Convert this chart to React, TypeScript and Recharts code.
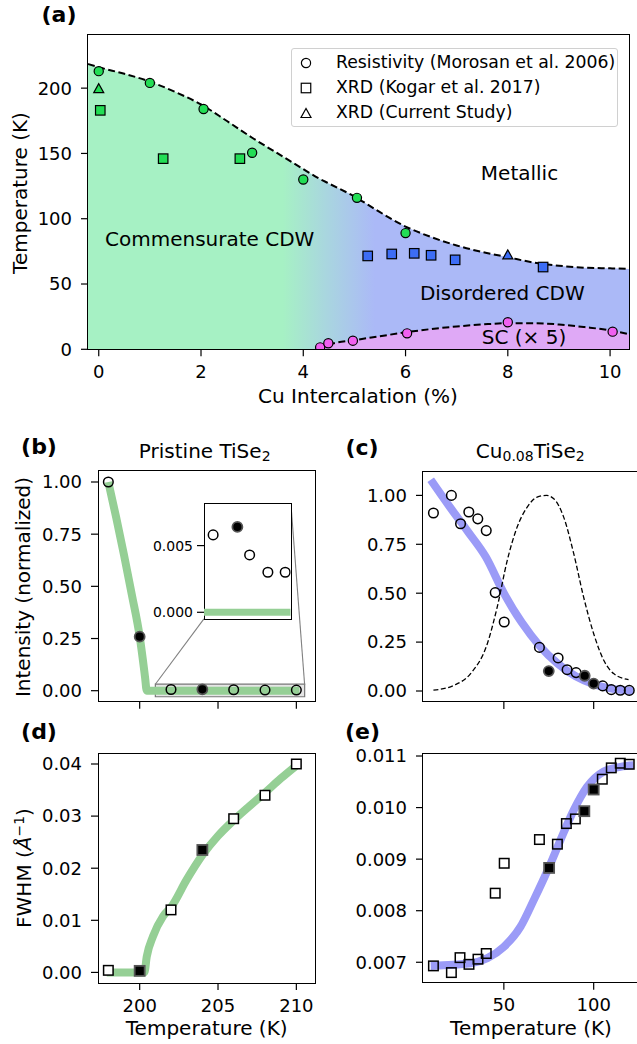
import React from 'react';
import {
  ComposedChart,
  Area,
  Line,
  Scatter,
  XAxis,
  YAxis,
  ReferenceArea,
  ReferenceLine,
} from 'recharts';

const FONT = '"DejaVu Sans", Verdana, sans-serif';

// (a) phase boundaries, sampled along Cu %
const curveX = [-0.21, 0, 0.5, 1, 1.5, 2, 2.5, 3, 3.5, 4, 4.3, 4.5, 5, 5.5, 6, 6.5, 7, 7.5, 8, 8.5, 9, 9.5, 10, 10.37];
const cdwEdge = [218.5, 216, 211, 205, 197, 187.5, 175, 162, 150, 138, 131, 127, 117, 105, 94, 86, 79.5, 74.5, 70.5, 66.5, 64, 62.5, 62, 61.5];
const scEdge = [null, null, null, null, null, null, null, null, null, null, 0, 3.5, 7, 10, 13, 15.5, 17.5, 19, 20, 20, 19, 17, 14.5, 11.5];

// (a) markers
const resCdwX = [0, 1, 2.05, 3, 4, 5.05, 6];
const resCdwT = [213, 204, 184, 150.5, 130, 116, 89];
const kogarCdwX = [0.03, 1.26, 2.76];
const kogarCdwT = [183, 146, 146];
const curCdwX = [0];
const curCdwT = [200];
const kogarDisX = [5.26, 5.73, 6.17, 6.5, 6.97, 8.69];
const kogarDisT = [71.5, 73, 73.5, 72, 68.5, 63];
const curDisX = [8];
const curDisT = [72.7];
const scX = [4.33, 4.49, 4.97, 6.03, 8, 10.05];
const scT = [1.5, 4.6, 6.6, 12.2, 20.7, 13.5];
const cuTicks = [0, 2, 4, 6, 8, 10];
const tcTicks = [0, 50, 100, 150, 200];

// (b) pristine TiSe2 intensity
const bOpenT = [198, 202, 206, 208, 210];
const bOpenI = [1.0, 0.0058, 0.0043, 0.003, 0.003];
const bClosedT = [200, 204];
const bClosedI = [0.259, 0.0064];
const bFitT = [198, 198.5, 199, 199.5, 200, 200.2, 200.35, 200.45, 210.2];
const bFitI = [1.0, 0.83, 0.65, 0.46, 0.26, 0.15, 0.06, 0, 0];
const insOpenT = [202, 206, 208, 209.9];
const insOpenI = [0.0058, 0.0043, 0.003, 0.003];
const insClosedT = [204.66];
const insClosedI = [0.0064];
const insFitT = [201, 210.5];
const insFitI = [0, 0];
const intTicks = [0, 0.25, 0.5, 0.75, 1];
const insTicks = [0, 0.005];
const pristineTicks = [200, 205, 210];

// (c) Cu0.08TiSe2 intensity
const cOpenT = [10.8, 20.8, 25.9, 30.5, 35.5, 40.2, 45.2, 50.2, 69.8, 80.2, 85.2, 90.2, 105, 109.8, 114.8, 119.8];
const cOpenI = [0.91, 1.0, 0.855, 0.915, 0.88, 0.82, 0.503, 0.353, 0.223, 0.169, 0.109, 0.094, 0.026, 0.007, 0.004, 0.003];
const cClosedT = [75, 95, 100];
const cClosedI = [0.102, 0.078, 0.038];
const cFitT = [9.3, 20, 30, 40, 50, 60, 70, 80, 90, 100, 110, 122];
const cFitI = [1.08, 0.94, 0.815, 0.685, 0.5, 0.35, 0.23, 0.14, 0.075, 0.035, 0.012, 0.0];
const cPeakT = [10.8, 22.2, 31.5, 40.8, 46.3, 51.9, 57.4, 63, 68.5, 73.7, 77.8, 83.3, 88.9, 94.4, 100, 105.6, 111.1, 119.4];
const cPeakI = [0.004, 0.029, 0.089, 0.242, 0.429, 0.668, 0.838, 0.94, 0.991, 1.0, 0.983, 0.889, 0.702, 0.48, 0.293, 0.157, 0.089, 0.058];
const dopedTicks = [50, 100];

// (d) pristine FWHM
const dOpenT = [198, 202, 206, 208, 210];
const dOpenW = [0.0004, 0.012, 0.0295, 0.034, 0.04];
const dClosedT = [200, 204];
const dClosedW = [0.0003, 0.0235];
const dFitT = [197.9, 200.3, 200.45, 200.85, 201.5, 202, 203, 204, 205, 206, 207, 208, 209, 210];
const dFitW = [0, 0, 0.003, 0.0069, 0.0108, 0.0125, 0.0178, 0.0225, 0.0262, 0.0292, 0.0319, 0.0345, 0.0372, 0.0397];
const fwhmTicks = [0, 0.01, 0.02, 0.03, 0.04];

// (e) Cu0.08TiSe2 FWHM
const eOpenT = [10.8, 20.8, 25.6, 30.6, 35.6, 40.2, 45.2, 50.2, 69.8, 79.8, 84.8, 89.8, 104.8, 109.8, 114.8, 119.8];
const eOpenW = [0.00693, 0.0068, 0.00709, 0.00696, 0.00706, 0.00717, 0.00834, 0.00892, 0.00938, 0.00929, 0.00969, 0.00978, 0.01055, 0.01077, 0.01086, 0.01084];
const eClosedT = [75.2, 94.8, 100];
const eClosedW = [0.00883, 0.00993, 0.01035];
const eFitT = [9.3, 31.5, 40.8, 50, 59.3, 66.7, 75.2, 81.5, 88.9, 96.3, 105.6, 114.8, 122.2];
const eFitW = [0.00693, 0.00698, 0.00708, 0.0073, 0.00769, 0.00821, 0.00885, 0.00937, 0.00995, 0.0104, 0.0107, 0.01079, 0.01082];
const eTicks = [0.007, 0.008, 0.009, 0.01, 0.011];

const GREEN = '#22dd55';
const BLUE = '#3d6df5';
const MAGENTA = '#f060f0';
const GREEN_FIT = '#95cf95';
const BLUE_FIT = '#9b9bf7';

type Pt = { x: number; y: number };
const zip = (xs: number[], ys: number[]): Pt[] => xs.map((x, i) => ({ x, y: ys[i] }));

type Rect = { x0: number; y0: number; x1: number; y1: number };
const RA: Rect = { x0: 88, y0: 35, x1: 629, y1: 349.3 };
const RB: Rect = { x0: 98.3, y0: 471, x1: 315, y1: 701.7 };
const RC: Rect = { x0: 422.7, y0: 471.7, x1: 639.2, y1: 701.7 };
const RD: Rect = { x0: 98.3, y0: 753.3, x1: 315, y1: 983.3 };
const RE: Rect = { x0: 422.7, y0: 754, x1: 639.2, y1: 982.7 };
const RI: Rect = { x0: 204.3, y0: 503.7, x1: 291, y1: 619 };

const PAD_T = 14;
const PAD_R = 4;

const circle = (r: number, fill: string, stroke = '#000', sw = 1.2) => (p: any) =>
  <circle cx={p.cx} cy={p.cy} r={r} fill={fill} stroke={stroke} strokeWidth={sw} />;
const square = (s: number, fill: string, stroke = '#000', sw = 1.2) => (p: any) =>
  <rect x={p.cx - s / 2} y={p.cy - s / 2} width={s} height={s} fill={fill} stroke={stroke} strokeWidth={sw} />;
const triangle = (w: number, h: number, fill: string) => (p: any) =>
  <polygon
    points={`${p.cx},${p.cy - h / 2} ${p.cx - w / 2},${p.cy + h / 2} ${p.cx + w / 2},${p.cy + h / 2}`}
    fill={fill}
    stroke="#000"
    strokeWidth={1.2}
  />;

type PlotProps = {
  rect: Rect;
  xd: [number, number];
  yd: [number, number];
  xTicks?: number[];
  yTicks: number[];
  xFmt?: (v: number) => string;
  yFmt?: (v: number) => string;
  data?: any[];
  padL?: number;
  padB?: number;
  tickFont?: number;
  hideX?: boolean;
  children?: React.ReactNode;
};

function Plot({ rect, xd, yd, xTicks, yTicks, xFmt, yFmt, data, padL = 72, padB = 40, tickFont = 18, hideX, children }: PlotProps) {
  const w = rect.x1 - rect.x0 + padL + PAD_R;
  const h = rect.y1 - rect.y0 + PAD_T + padB;
  const tick = { fill: '#000', fontSize: tickFont, fontFamily: FONT };
  const tickLine = { stroke: '#000', strokeWidth: 1.2 };
  return (
    <div style={{ position: 'absolute', left: rect.x0 - padL, top: rect.y0 - PAD_T }}>
      <ComposedChart width={w} height={h} data={data} margin={{ top: PAD_T, right: PAD_R, bottom: 0, left: 0 }}>
        <XAxis
          dataKey="x"
          type="number"
          domain={xd}
          allowDataOverflow
          ticks={xTicks}
          interval={0}
          tickFormatter={xFmt}
          height={padB}
          hide={hideX}
          axisLine={false}
          tickLine={tickLine}
          tickSize={7}
          tickMargin={9}
          tick={tick}
        />
        <YAxis
          dataKey="y"
          type="number"
          domain={yd}
          allowDataOverflow
          ticks={yTicks}
          interval={0}
          tickFormatter={yFmt}
          width={padL}
          axisLine={false}
          tickLine={tickLine}
          tickSize={7}
          tickMargin={tickFont < 16 ? 4 : 9}
          tick={tick}
        />
        {children}
      </ComposedChart>
    </div>
  );
}

const Frame = ({ rect, bg }: { rect: Rect; bg?: string }) => (
  <div
    style={{
      position: 'absolute',
      left: rect.x0 - 0.7,
      top: rect.y0 - 0.7,
      width: rect.x1 - rect.x0 + 1.4,
      height: rect.y1 - rect.y0 + 1.4,
      border: '1.4px solid #000',
      boxSizing: 'border-box',
      background: bg ?? 'transparent',
    }}
  />
);

const Txt = ({ x, y, size = 20, bold, rotate, children }: { x: number; y: number; size?: number; bold?: boolean; rotate?: boolean; children: React.ReactNode }) => (
  <div
    style={{
      position: 'absolute',
      left: x,
      top: y,
      transform: `translate(-50%, -50%)${rotate ? ' rotate(-90deg)' : ''}`,
      fontSize: size,
      fontWeight: bold ? 'bold' : 'normal',
      whiteSpace: 'nowrap',
      lineHeight: 1,
    }}
  >
    {children}
  </div>
);

const sub = (s: string) => <span style={{ fontSize: '0.7em', verticalAlign: '-0.25em' }}>{s}</span>;
const none = () => '';
const f2 = (v: number) => v.toFixed(2);
const f3 = (v: number) => v.toFixed(3);

const LegendRow = ({ y, icon, label }: { y: number; icon: React.ReactNode; label: string }) => (
  <>
    <svg style={{ position: 'absolute', left: 300, top: y - 6 }} width={12} height={12}>
      {icon}
    </svg>
    <Txt x={336} y={y} size={17.3}>
      <span style={{ position: 'relative', left: '50%' }}>{label}</span>
    </Txt>
  </>
);

export default function App() {
  const phaseRows = curveX.map((x, i) => ({ x, upper: cdwEdge[i], sc: scEdge[i] }));
  const fat = (color: string, w: number) => ({
    stroke: color,
    strokeWidth: w,
    dot: false,
    activeDot: false,
    isAnimationActive: false,
    type: 'monotone' as const,
    dataKey: 'y',
  });
  const blackDot = circle(5, '#000', '#555', 1.8);
  const blackSq = square(10, '#000', '#555', 1.8);

  return (
    <div
      style={{
        position: 'fixed',
        left: 0,
        top: 0,
        width: 637,
        height: 1044,
        overflow: 'hidden',
        background: '#fff',
        fontFamily: FONT,
        color: '#000',
      }}
    >
      {/* (a) phase diagram */}
      <Plot rect={RA} xd={[-0.21, 10.37]} yd={[0, 240.7]} xTicks={cuTicks} yTicks={tcTicks} data={phaseRows}>
        <defs>
          <linearGradient id="cdwFill" x1="0" y1="0" x2="1" y2="0">
            <stop offset="0.36" stopColor="#a6f1c4" />
            <stop offset="0.44" stopColor="#a9d6df" />
            <stop offset="0.53" stopColor="#abb9f7" />
          </linearGradient>
        </defs>
        <Area type="monotone" dataKey="upper" stroke="none" fill="url(#cdwFill)" fillOpacity={1} isAnimationActive={false} />
        <Area type="monotone" dataKey="sc" stroke="none" fill="#dfa9f6" fillOpacity={1} isAnimationActive={false} />
        <Line type="monotone" dataKey="upper" stroke="#000" strokeWidth={2} strokeDasharray="7 3.5" dot={false} activeDot={false} isAnimationActive={false} />
        <Line type="monotone" dataKey="sc" stroke="#000" strokeWidth={2} strokeDasharray="7 3.5" dot={false} activeDot={false} isAnimationActive={false} />
        <Scatter data={zip(kogarCdwX, kogarCdwT)} shape={square(9.5, GREEN)} isAnimationActive={false} />
        <Scatter data={zip(curCdwX, curCdwT)} shape={triangle(10, 9, GREEN)} isAnimationActive={false} />
        <Scatter data={zip(resCdwX, resCdwT)} shape={circle(4.6, GREEN)} isAnimationActive={false} />
        <Scatter data={zip(kogarDisX, kogarDisT)} shape={square(9.5, BLUE)} isAnimationActive={false} />
        <Scatter data={zip(curDisX, curDisT)} shape={triangle(10, 9, BLUE)} isAnimationActive={false} />
        <Scatter data={zip(scX, scT)} shape={circle(4.6, MAGENTA)} isAnimationActive={false} />
      </Plot>
      <Frame rect={RA} />
      <Txt x={209.7} y={239.3} size={20}>Commensurate CDW</Txt>
      <Txt x={519.5} y={173} size={20}>Metallic</Txt>
      <Txt x={502.3} y={293.3} size={20}>Disordered CDW</Txt>
      <Txt x={524} y={337.3} size={20}>SC (× 5)</Txt>
      <div
        style={{
          position: 'absolute',
          left: 290.7,
          top: 48.3,
          width: 327.3,
          height: 78.7,
          background: 'rgba(255,255,255,0.85)',
          border: '1px solid #d0d0d0',
          borderRadius: 3,
          boxSizing: 'border-box',
        }}
      />
      <LegendRow y={63.3} icon={<circle cx={6} cy={6} r={4.6} fill="none" stroke="#000" strokeWidth={1.2} />} label="Resistivity (Morosan et al. 2006)" />
      <LegendRow y={87.7} icon={<rect x={1.25} y={1.25} width={9.5} height={9.5} fill="none" stroke="#000" strokeWidth={1.2} />} label="XRD (Kogar et al. 2017)" />
      <LegendRow y={112.7} icon={<polygon points="6,1.5 1,10.5 11,10.5" fill="none" stroke="#000" strokeWidth={1.2} />} label="XRD (Current Study)" />
      <Txt x={59} y={15} size={22} bold>(a)</Txt>
      <Txt x={20} y={193} rotate>Temperature (K)</Txt>
      <Txt x={358} y={395.5}>Cu Intercalation (%)</Txt>

      {/* (b) pristine intensity */}
      <Plot rect={RB} xd={[197.34, 211.17]} yd={[-0.0527, 1.0527]} xTicks={pristineTicks} xFmt={none} yTicks={intTicks} yFmt={f2}>
        <Line data={zip(bFitT, bFitI)} {...fat(GREEN_FIT, 8)} />
        <ReferenceLine segment={[{ x: 201, y: 0.031 }, { x: 204.1, y: 0.344 }]} stroke="#808080" strokeWidth={1.1} />
        <ReferenceLine segment={[{ x: 210.53, y: 0.027 }, { x: 209.65, y: 0.898 }]} stroke="#808080" strokeWidth={1.1} />
        <ReferenceArea x1={201} x2={210.53} y1={-0.029} y2={0.031} fill="#8a8a8a" fillOpacity={0.22} stroke="#777" strokeWidth={1.2} ifOverflow="visible" />
        <Scatter data={zip(bOpenT, bOpenI)} shape={circle(4.8, 'none', '#000', 1.5)} isAnimationActive={false} />
        <Scatter data={zip(bClosedT, bClosedI)} shape={blackDot} isAnimationActive={false} />
      </Plot>
      <Frame rect={RB} />
      <Frame rect={RI} bg="#fff" />
      <Plot rect={RI} xd={[201, 210.5]} yd={[-0.000525, 0.008118]} yTicks={insTicks} yFmt={f3} padL={62} padB={0} tickFont={14} hideX>
        <Line data={zip(insFitT, insFitI)} {...fat(GREEN_FIT, 7)} type="linear" />
        <Scatter data={zip(insOpenT, insOpenI)} shape={circle(4.8, '#fff', '#000', 1.5)} isAnimationActive={false} />
        <Scatter data={zip(insClosedT, insClosedI)} shape={blackDot} isAnimationActive={false} />
      </Plot>
      <Txt x={39} y={447.3} size={22} bold>(b)</Txt>
      <Txt x={204.7} y={452.3}>Pristine TiSe{sub('2')}</Txt>
      <Txt x={23} y={587} rotate>Intensity (normalized)</Txt>

      {/* (c) doped intensity */}
      <Plot rect={RC} xd={[5, 125.5]} yd={[-0.0562, 1.1196]} xTicks={dopedTicks} xFmt={none} yTicks={intTicks} yFmt={f2}>
        <Line data={zip(cFitT, cFitI)} {...fat(BLUE_FIT, 8)} />
        <Line data={zip(cPeakT, cPeakI)} {...fat('#000', 1.3)} strokeDasharray="5 2.5" />
        <Scatter data={zip(cOpenT, cOpenI)} shape={circle(4.8, 'none', '#000', 1.5)} isAnimationActive={false} />
        <Scatter data={zip(cClosedT, cClosedI)} shape={blackDot} isAnimationActive={false} />
      </Plot>
      <Frame rect={RC} />
      <Txt x={362} y={447.5} size={22} bold>(c)</Txt>
      <Txt x={530.3} y={452.3}>Cu{sub('0.08')}TiSe{sub('2')}</Txt>

      {/* (d) pristine FWHM */}
      <Plot rect={RD} xd={[197.34, 211.17]} yd={[-0.00203, 0.04211]} xTicks={pristineTicks} yTicks={fwhmTicks} yFmt={f2}>
        <Line data={zip(dFitT, dFitW)} {...fat(GREEN_FIT, 8)} />
        <Scatter data={zip(dOpenT, dOpenW)} shape={square(9.5, '#fff', '#000', 1.5)} isAnimationActive={false} />
        <Scatter data={zip(dClosedT, dClosedW)} shape={blackSq} isAnimationActive={false} />
      </Plot>
      <Frame rect={RD} />
      <Txt x={39} y={732} size={22} bold>(d)</Txt>
      <Txt x={23} y={868} rotate>
        FWHM (<i>Å</i>
        <sup style={{ fontSize: '0.7em' }}>−1</sup>)
      </Txt>
      <Txt x={206.7} y={1027.5}>Temperature (K)</Txt>

      {/* (e) doped FWHM */}
      <Plot rect={RE} xd={[5, 125.5]} yd={[0.006604, 0.011039]} xTicks={dopedTicks} yTicks={eTicks} yFmt={f3}>
        <Line data={zip(eFitT, eFitW)} {...fat(BLUE_FIT, 8)} />
        <Scatter data={zip(eOpenT, eOpenW)} shape={square(9.5, 'none', '#000', 1.5)} isAnimationActive={false} />
        <Scatter data={zip(eClosedT, eClosedW)} shape={blackSq} isAnimationActive={false} />
      </Plot>
      <Frame rect={RE} />
      <Txt x={362.5} y={732} size={22} bold>(e)</Txt>
      <Txt x={531} y={1027.5}>Temperature (K)</Txt>
    </div>
  );
}
